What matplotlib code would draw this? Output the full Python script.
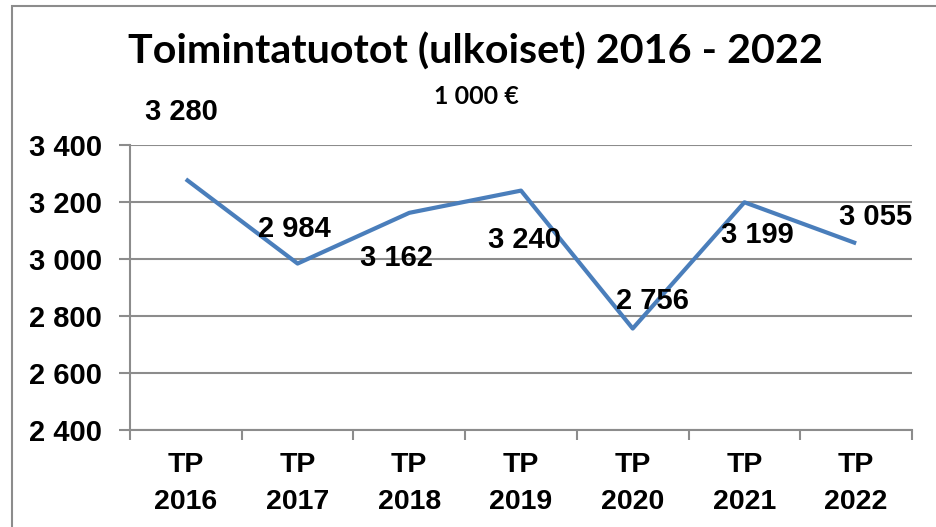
#!/usr/bin/env python3

from matplotlib import pyplot as plt
from matplotlib.patches import Rectangle
import numpy as np

categories = ["TP\n2016", "TP\n2017", "TP\n2018", "TP\n2019",
              "TP\n2020", "TP\n2021", "TP\n2022"]
values = [3280, 2984, 3162, 3240, 2756, 3199, 3055]
value_labels = ["3 280", "2 984", "3 162", "3 240", "2 756", "3 199", "3 055"]
y_ticks = [2400, 2600, 2800, 3000, 3200, 3400]
y_tick_labels = ["2 400", "2 600", "2 800", "3 000", "3 200", "3 400"]

# label offsets in pixels relative to each point (x, y up)
LABEL_OFFSETS = [(-4, 67), (-3, 35), (-13, -45), (3, -49),
                 (20, 28), (13, -33), (19, 26)]

GRID = "#8c8c8c"
LINE = "#4a7ebb"
FS = 21


def main():
    fig = plt.figure(figsize=(9.37, 5.27), dpi=100)
    ax = fig.add_axes([130 / 937, 1 - 430 / 527, 782 / 937, 285 / 527])

    x = np.arange(len(values))
    ax.plot(x, values, color=LINE, lw=3, solid_capstyle="butt")

    for xi, v, lab, off in zip(x, values, value_labels, LABEL_OFFSETS):
        ax.annotate(lab, (xi, v), xytext=off, textcoords="offset pixels",
                    ha="center", va="center", fontsize=FS,
                    fontweight="bold", family="Liberation Sans")

    ax.set_xlim(-0.5, len(values) - 0.5)
    ax.set_ylim(2400, 3400)
    ax.set_yticks(y_ticks)
    ax.set_yticklabels(y_tick_labels, fontsize=FS, fontweight="bold",
                       family="Liberation Sans")
    ax.set_xticks(x)
    ax.set_xticklabels(categories, fontsize=20.5, fontweight="bold",
                       family="Liberation Sans", linespacing=1.56)
    ax.set_xticks(np.arange(len(values) + 1) - 0.5, minor=True)

    ax.grid(axis="y", color=GRID, lw=1.5)
    ax.set_axisbelow(True)
    ax.tick_params(axis="x", which="major", length=0, pad=16)
    ax.tick_params(axis="x", which="minor", length=7, width=1.5,
                   color=GRID, direction="out")
    ax.tick_params(axis="y", length=8, width=1.5, color=GRID, pad=12)

    for side in ["top", "right"]:
        ax.spines[side].set_visible(False)
    for side in ["left", "bottom"]:
        ax.spines[side].set_color(GRID)
        ax.spines[side].set_linewidth(1.5)

    fig.text(475 / 937, 1 - 52 / 527, "Toimintatuotot (ulkoiset) 2016 - 2022",
             ha="center", va="center", fontsize=29.7, fontweight="bold",
             family="Lato")
    fig.text(476 / 937, 1 - 97 / 527, "1 000 \u20ac", ha="center",
             va="center", fontsize=18, fontweight="bold", family="Lato")

    fig.patches.append(Rectangle((12 / 937, -0.2), 1.2, 1.2 - 6 / 527,
                                 transform=fig.transFigure, fill=False,
                                 edgecolor="#8c8c8c", lw=1.5))

    fig.savefig("out.png", dpi=100)


if __name__ == "__main__":
    main()
